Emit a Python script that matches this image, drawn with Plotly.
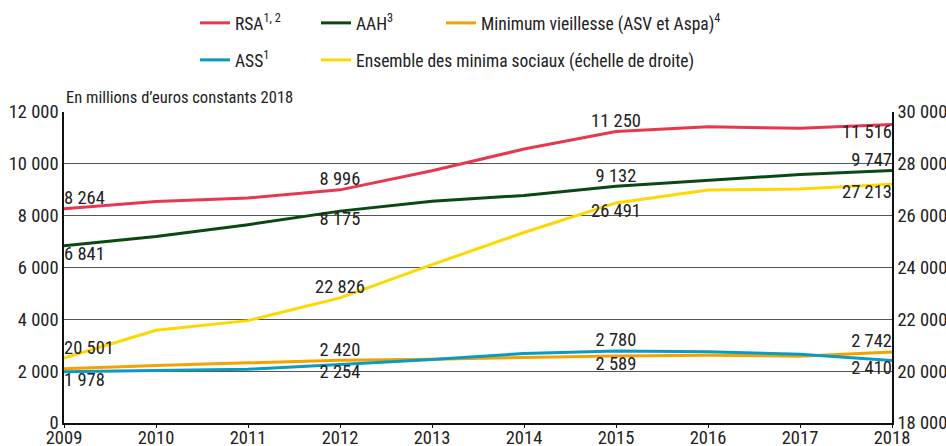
import plotly.graph_objects as go

years = [2009, 2010, 2011, 2012, 2013, 2014, 2015, 2016, 2017, 2018]
rsa = [8264, 8550, 8680, 8996, 9730, 10570, 11250, 11430, 11370, 11516]
aah = [6841, 7200, 7650, 8175, 8560, 8780, 9132, 9370, 9590, 9747]
minv = [2090, 2220, 2320, 2420, 2460, 2525, 2589, 2615, 2580, 2742]
ass = [1978, 2040, 2075, 2254, 2450, 2680, 2780, 2745, 2655, 2410]
ens = [20501, 21580, 21950, 22826, 24110, 25350, 26491, 26990, 27030, 27213]

left_ticks = [0, 2000, 4000, 6000, 8000, 10000, 12000]
right_ticks = [18000, 20000, 22000, 24000, 26000, 28000, 30000]

FONT = "Liberation Sans Narrow, Roboto Condensed, DejaVu Sans Condensed, sans-serif"
FS = 18.5


def fmt(v):
    return f"{v:,}".replace(",", " ")


# name, values, colour, axis, legend id, label spec, legend x (px on page), legend row
series = [
    ("RSA<sup>1, 2</sup>", rsa, "#E8384F", "y", "legend",
     {0: "top right", 3: "top center", 6: "top center", 9: "bottom left"}, 195, 0),
    ("AAH<sup>3</sup>", aah, "#0A4A12", "y", "legend2",
     {0: "bottom right", 3: "bottom center", 6: "top center", 9: "top left"}, 316, 0),
    ("Minimum vieillesse (ASV et Aspa)<sup>4</sup>", minv, "#F5A200", "y", "legend3",
     {3: "top center", 6: "bottom center", 9: "top left"}, 441, 0),
    ("ASS<sup>1</sup>", ass, "#0A9BC2", "y", "legend4",
     {0: "bottom right", 3: "bottom center", 6: "top center", 9: "bottom left"}, 195, 1),
    ("Ensemble des minima sociaux (échelle de droite)", ens, "#FFD800", "y2", "legend5",
     {0: "top right", 3: "top center", 6: "bottom center", 9: "bottom left"}, 316, 1),
]

W, H = 946, 446
ML, MR, MT, MB = 64, 54, 112, 23

fig = go.Figure()
order = [4, 2, 3, 1, 0]
for k in order:
    name, vals, color, yax, leg, spec, lx, row = series[k]
    fig.add_trace(go.Scatter(
        x=years, y=vals, name=name, mode="lines", yaxis=yax, legend=leg,
        line=dict(color=color, width=3),
    ))
for k in order:
    name, vals, color, yax, leg, spec, lx, row = series[k]
    idx = list(spec.keys())
    fig.add_trace(go.Scatter(
        x=[years[i] for i in idx], y=[vals[i] for i in idx],
        text=[fmt(vals[i]) for i in idx], textposition=[spec[i] for i in idx],
        mode="text", yaxis=yax, showlegend=False, hoverinfo="skip",
        textfont=dict(family=FONT, size=FS, color="#222"), cliponaxis=False,
    ))

legends = {}
for name, vals, color, yax, leg, spec, lx, row in series:
    yc = 23 if row == 0 else 60
    legends[leg] = dict(
        orientation="h", xref="container", x=lx / W, xanchor="left",
        yref="container", y=1 - yc / H, yanchor="middle",
        font=dict(family=FONT, size=17.5, color="#222"), itemwidth=30,
        bgcolor="rgba(0,0,0,0)", borderwidth=0,
    )

fig.update_layout(
    width=W, height=H,
    margin=dict(l=ML, r=MR, t=MT, b=MB, autoexpand=False),
    paper_bgcolor="white", plot_bgcolor="white",
    font=dict(family=FONT, size=FS, color="#222"),
    showlegend=True,
    xaxis=dict(range=[2009, 2018], tickmode="array", tickvals=years,
               showgrid=False, showline=True, linecolor="#111", linewidth=1.5,
               ticks="outside", ticklen=3, tickcolor="#111", zeroline=False,
               ticklabelstandoff=-6,
               tickfont=dict(size=FS), automargin=False),
    yaxis=dict(range=[0, 12000], tickmode="array", tickvals=left_ticks,
               ticktext=[fmt(v) for v in left_ticks],
               showgrid=True, gridcolor="#555", gridwidth=1, zeroline=False,
               showline=True, linecolor="#111", linewidth=1.5, ticks="",
               tickfont=dict(size=FS), automargin=False),
    yaxis2=dict(range=[18000, 30000], overlaying="y", side="right", tickmode="array",
                tickvals=right_ticks, ticktext=[fmt(v) for v in right_ticks],
                showgrid=False, zeroline=False, showline=True, linecolor="#111",
                linewidth=1.5, ticks="", tickfont=dict(size=FS), automargin=False),
    annotations=[dict(text="En millions d\u2019euros constants 2018", xref="paper", yref="paper",
                      x=0, y=1, xanchor="left", yanchor="bottom", yshift=3,
                      showarrow=False, font=dict(size=16.5, family=FONT, color="#222"))],
    **legends,
)

fig.write_html(
    "out.html",
    config={"displayModeBar": False},
    post_script="document.body.style.margin='0';document.body.style.overflow='hidden';",
)
